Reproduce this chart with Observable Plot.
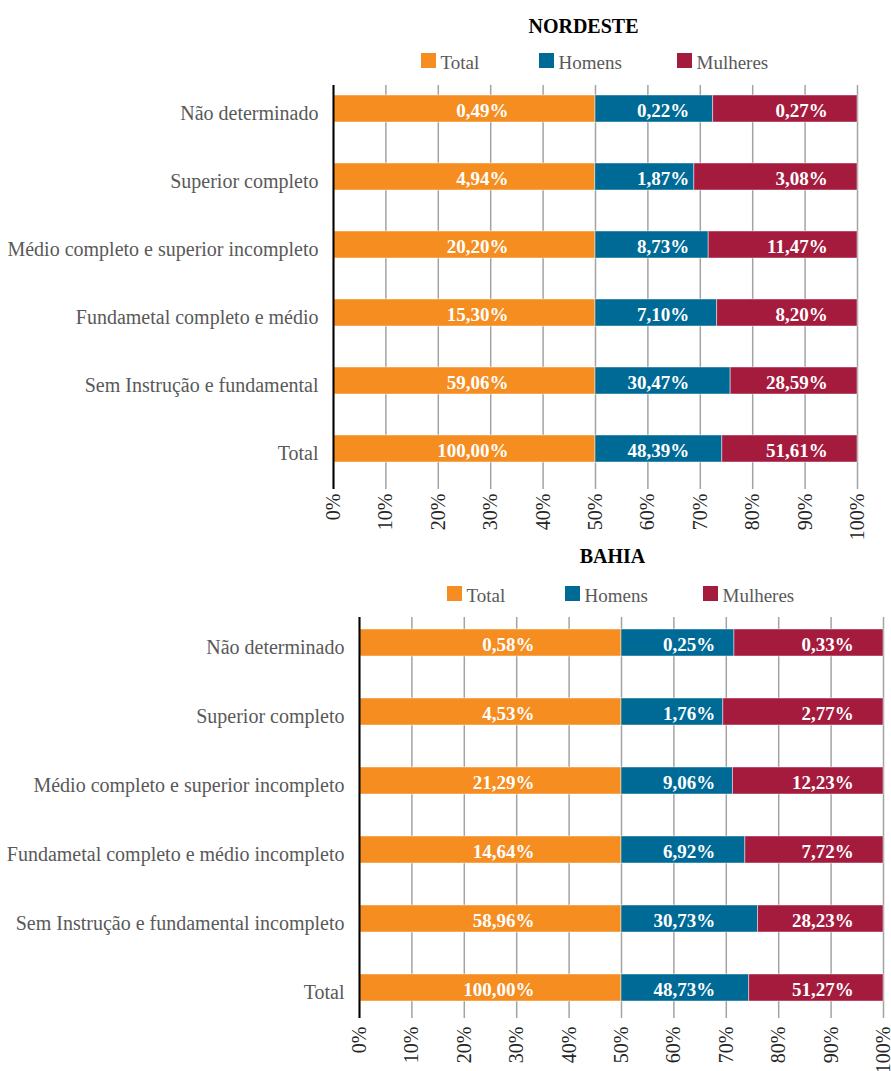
<!DOCTYPE html>
<html lang="pt-BR">
<head>
<meta charset="utf-8">
<script src="https://cdn.jsdelivr.net/npm/d3@7"></script>
<script src="https://cdn.jsdelivr.net/npm/@observablehq/plot@0.6"></script>
<style>
  html, body { margin: 0; padding: 0; background: #fff; overflow: hidden; }
  #page { position: relative; width: 891px; height: 1071px; }
  .title { position: absolute; width: 300px; text-align: center; font-weight: bold; color: #000; }
  .sw { position: absolute; width: 15px; height: 15px; }
  .key { position: absolute; color: #595959; white-space: nowrap; }
  .panel { position: absolute; left: 0; }
</style>
</head>
<body>
<div id="page"></div>
<script>
// Series, colours and axis ticks shared by both panels
const series = ["Total", "Homens", "Mulheres"];
const colors = ["#F58D21", "#006A97", "#A51B3E"];
const tickLabels = ["0%", "10%", "20%", "30%", "40%", "50%", "60%", "70%", "80%", "90%", "100%"];

// Nordeste
const nordesteCategories = [
  "Não determinado",
  "Superior completo",
  "Médio completo e superior incompleto",
  "Fundametal completo e médio",
  "Sem Instrução e fundamental",
  "Total"
];
const nordesteTotal = [0.49, 4.94, 20.20, 15.30, 59.06, 100.00];
const nordesteHomens = [0.22, 1.87, 8.73, 7.10, 30.47, 48.39];
const nordesteMulheres = [0.27, 3.08, 11.47, 8.20, 28.59, 51.61];

// Bahia
const bahiaCategories = [
  "Não determinado",
  "Superior completo",
  "Médio completo e superior incompleto",
  "Fundametal completo e médio incompleto",
  "Sem Instrução e fundamental incompleto",
  "Total"
];
const bahiaTotal = [0.58, 4.53, 21.29, 14.64, 58.96, 100.00];
const bahiaHomens = [0.25, 1.76, 9.06, 6.92, 30.73, 48.73];
const bahiaMulheres = [0.33, 2.77, 12.23, 7.72, 28.23, 51.27];

// Value labels are right-aligned at a fixed point inside each series' slot
const labelEnd = {Total: 0.334, Homens: 0.679, Mulheres: 0.943};

// --- font: pick the first installed Times-like serif, and scale sizes so text keeps Times metrics
const ctx = document.createElement("canvas").getContext("2d");
function width(font, s) { ctx.font = font; return ctx.measureText(s).width; }
const probe = "Médio completo e superior incompleto";
function installed(name) {
  return ["monospace", "sans-serif", "serif"].some(base =>
    Math.abs(width(`100px "${name}", ${base}`, probe) - width(`100px ${base}`, probe)) > 0.5);
}
const serifName = ["Liberation Serif", "Tinos", "Times New Roman", "Times", "Noto Serif", "DejaVu Serif"].find(installed);
const FONT = serifName ? `"${serifName}", serif` : "serif";
// Width of the probe in Times at 100px is about 1555px
const k = Math.max(0.75, Math.min(1.15, 1555 / width(`100px ${FONT}`, probe)));
const fs = px => +(px * k).toFixed(2);

const xTicks = tickLabels.map(t => parseFloat(t) / 100);
const fmtValue = v => v.toFixed(2).replace(".", ",") + "%";

function rowsFor(categories, total, homens, mulheres) {
  const cols = [total, homens, mulheres];
  return series.flatMap((s, j) => categories.map((c, i) => ({category: c, series: s, value: cols[j][i]})));
}

const page = document.getElementById("page");
page.style.fontFamily = FONT;

function addEl(cls, css, text) {
  const el = document.createElement("div");
  el.className = cls;
  Object.assign(el.style, css);
  if (text != null) el.textContent = text;
  page.appendChild(el);
  return el;
}

function panel(cfg) {
  // title: baseline sits at cfg.titleBase
  const tfs = fs(20);
  addEl("title", {
    left: (cfg.titleCenter - 150) + "px",
    top: (cfg.titleBase - 30) + "px",
    height: "30px",
    fontSize: tfs + "px",
    lineHeight: "30px",
    display: "flex", alignItems: "flex-end", justifyContent: "center"
  }).innerHTML = `<span style="line-height:1;display:inline-block;transform:translateY(${(0.216 * tfs).toFixed(1)}px)">${cfg.title}</span>`;

  // legend: swatch bottom and text baseline share the same line
  const kfs = fs(19);
  series.forEach((s, i) => {
    addEl("sw", {left: cfg.keyX[i] + "px", top: (cfg.keyBase - 15) + "px", background: colors[i]});
    const el = addEl("key", {
      left: (cfg.keyX[i] + 19.5) + "px",
      top: (cfg.keyBase - 30) + "px",
      height: "30px",
      fontSize: kfs + "px",
      display: "flex", alignItems: "flex-end"
    });
    el.innerHTML = `<span style="line-height:1;display:inline-block;transform:translateY(${(0.216 * kfs).toFixed(1)}px)">${s}</span>`;
  });

  const rows = rowsFor(cfg.categories, cfg.total, cfg.homens, cfg.mulheres);
  const H = cfg.svgHeight;
  const mt = cfg.plotTop - cfg.svgTop;
  const mb = H - (cfg.plotBottom - cfg.svgTop);

  const chart = Plot.plot({
    width: 891,
    height: H,
    marginLeft: cfg.marginLeft,
    marginRight: cfg.marginRight,
    marginTop: mt,
    marginBottom: mb,
    style: {fontFamily: FONT, background: "transparent", overflow: "visible"},
    x: {domain: [0, 1], ticks: xTicks},
    y: {
      domain: cfg.categories,
      range: [cfg.bandTop - cfg.svgTop, cfg.bandBottom - cfg.svgTop],
      paddingInner: cfg.paddingInner,
      paddingOuter: 0
    },
    color: {domain: series, range: colors},
    marks: [
      Plot.gridX(xTicks, {stroke: "#a3a3a3", strokeOpacity: 1, strokeWidth: 1.5}),
      Plot.barX(rows, Plot.stackX({
        x: "value",
        y: "category",
        fill: "series",
        order: series,
        offset: "normalize",
        stroke: "white",
        strokeOpacity: 0.45,
        strokeWidth: 1
      })),
      Plot.ruleX([0], {stroke: "#000", strokeWidth: 2}),
      Plot.axisX(xTicks, {
        tickRotate: -90,
        tickSize: 0,
        tickPadding: cfg.tickPadding,
        tickFormat: (d, i) => tickLabels[i],
        fontSize: fs(cfg.tickFont),
        fill: "#262626",
        label: null
      }),
      Plot.axisY({
        tickSize: 0,
        tickPadding: 15,
        fontSize: fs(20),
        fill: "#595959",
        dy: 5,
        label: null
      }),
      Plot.text(rows, {
        x: d => labelEnd[d.series],
        y: "category",
        text: d => fmtValue(d.value),
        textAnchor: "end",
        fill: "white",
        fontWeight: "bold",
        fontSize: fs(19),
        dy: 2
      })
    ]
  });

  const wrap = addEl("panel", {top: cfg.svgTop + "px"});
  wrap.appendChild(chart);
}

panel({
  title: "NORDESTE",
  titleCenter: 583.5,
  titleBase: 32,
  keyX: [421, 539, 677],
  keyBase: 68,
  categories: nordesteCategories,
  total: nordesteTotal,
  homens: nordesteHomens,
  mulheres: nordesteMulheres,
  svgTop: 80,
  svgHeight: 470,
  plotTop: 85,
  plotBottom: 489,
  bandTop: 93.5,
  bandBottom: 463.5,
  paddingInner: 0.606,
  marginLeft: 333,
  marginRight: 34,
  tickPadding: 4,
  tickFont: 20
});

panel({
  title: "BAHIA",
  titleCenter: 612.5,
  titleBase: 562,
  keyX: [447, 565, 703],
  keyBase: 601,
  categories: bahiaCategories,
  total: bahiaTotal,
  homens: bahiaHomens,
  mulheres: bahiaMulheres,
  svgTop: 612,
  svgHeight: 470,
  plotTop: 617,
  plotBottom: 1018,
  bandTop: 628,
  bandBottom: 1001.5,
  paddingInner: 0.61,
  marginLeft: 359,
  marginRight: 8,
  tickPadding: 8,
  tickFont: 20
});
</script>
</body>
</html>
